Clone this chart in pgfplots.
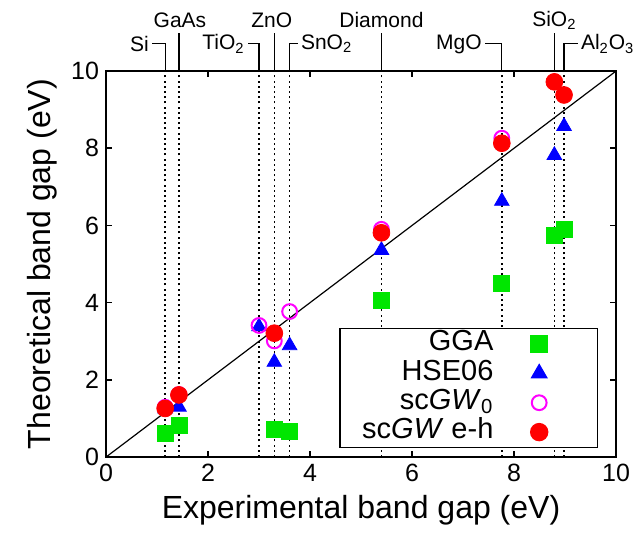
\documentclass[border=0pt]{standalone}
\usepackage{pgfplots}
\pgfplotsset{compat=1.18}
\usepackage{fontspec}
\setmainfont{Liberation Sans}

\definecolor{ggagreen}{RGB}{0,230,0}
\definecolor{gwmag}{RGB}{255,0,255}
\definecolor{ehred}{RGB}{255,0,0}
\definecolor{hseblue}{RGB}{0,0,255}

\pgfplotsset{
  legmark/.style={legend image code/.code={%
      \path[draw=none] (0,0) -- (41pt,0);
      \draw[##1, only marks] plot coordinates {(20.9pt,0pt)};}},
}

\begin{document}
\begin{tikzpicture}
\begin{axis}[
    scale only axis,
    width=255pt, height=193pt,
    xmin=0, xmax=10, ymin=0, ymax=10,
    xtick={0,2,...,10}, ytick={0,2,...,10},
    tick align=inside,
    major tick length=3pt,
    axis line style={line width=0.8pt},
    every tick/.style={black, line width=0.8pt},
    tick label style={font=\fontsize{12.5}{14}\selectfont},
    /pgf/number format/assume math mode=true,
    xlabel={Experimental band gap (eV)},
    ylabel={Theoretical band gap (eV)},
    label style={font=\fontsize{16}{19}\selectfont},
    clip=false,
    legend plot pos=right,
    legend cell align=right,
    legend style={at={(0.965,0.023)}, anchor=south east,
                  font=\fontsize{14.5}{17}\selectfont,
                  draw=black, line width=0.8pt,
                  inner xsep=9pt, inner ysep=0.3pt,
                  nodes={text height=10pt, text depth=3.2pt, inner ysep=0.75pt}},
]

% where the page ends
\coordinate (bbsw) at (axis cs:-2.078,-2.28);
\coordinate (bbne) at (axis cs:10.43,11.84);

% y = x
\draw[black, line width=0.6pt] (axis cs:0,0) -- (axis cs:10,10);

% experimental gaps
\foreach \e in {1.16,1.43,3.0,3.3,3.6,5.4,7.76,8.79,8.98} {
  \edef\tmp{\noexpand\draw[black, line width=0.8pt, dash pattern=on 1pt off 1.6pt]
    (axis cs:\e,0) -- (axis cs:\e,10);}
  \tmp
}

% material labels above the frame
\begin{scope}[line width=0.6pt, every node/.style={font=\fontsize{10.5}{12}\selectfont, inner sep=0.8pt}]
\draw (axis cs:1.16,10) -- (axis cs:1.16,10.72) -- (axis cs:0.90,10.72);
\node[anchor=east] at (axis cs:0.88,10.70) {Si};
\draw (axis cs:1.43,10) -- (axis cs:1.43,10.98);
\node at (axis cs:1.45,11.32) {GaAs};
\draw (axis cs:3.0,10) -- (axis cs:3.0,10.72) -- (axis cs:2.78,10.72);
\node[anchor=east] at (axis cs:2.76,10.70) {TiO\textsubscript{2}};
\draw (axis cs:3.3,10) -- (axis cs:3.3,10.98);
\node at (axis cs:3.25,11.32) {ZnO};
\draw (axis cs:3.6,10) -- (axis cs:3.6,10.72) -- (axis cs:3.76,10.72);
\node[anchor=west] at (axis cs:3.78,10.70) {SnO\textsubscript{2}};
\draw (axis cs:5.4,10) -- (axis cs:5.4,10.98);
\node at (axis cs:5.4,11.32) {Diamond};
\draw (axis cs:7.76,10) -- (axis cs:7.76,10.72) -- (axis cs:7.43,10.72);
\node[anchor=east] at (axis cs:7.41,10.70) {MgO};
\draw (axis cs:8.79,10) -- (axis cs:8.79,10.98);
\node at (axis cs:8.79,11.32) {SiO\textsubscript{2}};
\draw (axis cs:8.98,10) -- (axis cs:8.98,10.72) -- (axis cs:9.25,10.72);
\node[anchor=west] at (axis cs:9.27,10.70) {Al\textsubscript{2}O\textsubscript{3}};
\end{scope}

% GGA
\addplot[only marks, mark=square*, mark size=4pt, color=ggagreen, legmark]
    coordinates {(1.16,0.62) (1.43,0.83) (3.3,0.72) (3.6,0.67) (5.4,4.05)
                 (7.76,4.50) (8.79,5.75) (8.98,5.90)};
% HSE06
\addplot[only marks, mark=triangle*, mark size=4.2pt, color=hseblue, legmark]
    coordinates {(1.16,1.25) (1.43,1.30) (3.0,3.38) (3.3,2.46) (3.6,2.89)
                 (5.4,5.36) (7.76,6.63) (8.79,7.82) (8.98,8.57)};
% scGW0
\addplot[only marks, mark=o, mark size=3.7pt, color=gwmag,
         mark options={line width=1pt}, legmark]
    coordinates {(1.16,1.29) (1.43,1.62) (3.0,3.41) (3.3,3.01) (3.6,3.77)
                 (5.4,5.90) (7.76,8.26)};
% scGW e-h
\addplot[only marks, mark=*, mark size=4.2pt, color=ehred, legmark]
    coordinates {(1.16,1.26) (1.43,1.61) (3.3,3.21) (5.4,5.81) (7.76,8.13)
                 (8.79,9.72) (8.98,9.38)};

\legend{GGA, HSE06, sc\textit{GW}\textsubscript{0}, sc\textit{GW} e-h}
\end{axis}
\pgfresetboundingbox
\path (bbsw) rectangle (bbne);
\end{tikzpicture}
\end{document}
